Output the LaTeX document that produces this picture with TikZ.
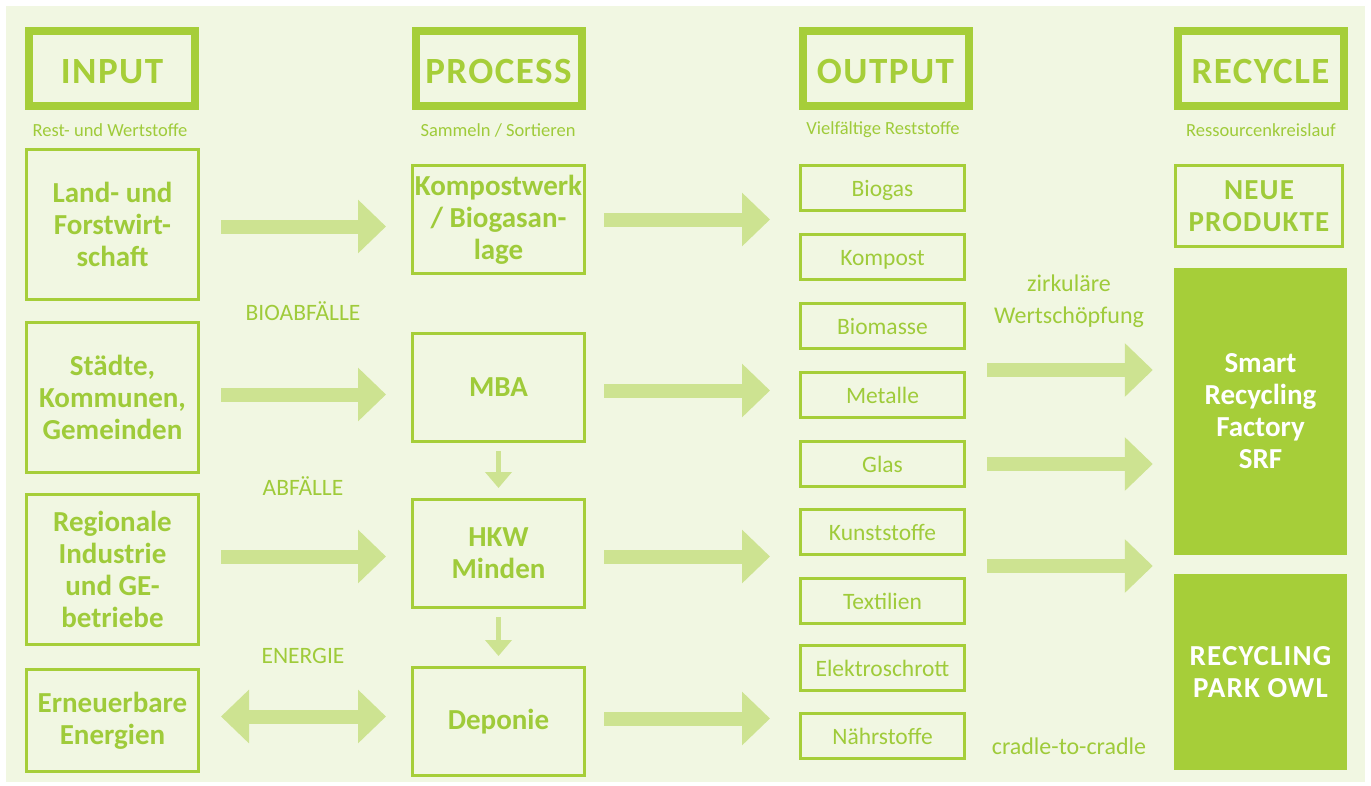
\documentclass[tikz,border=0pt]{standalone}
\usepackage{fontspec}
\setmainfont{Carlito}
\usetikzlibrary{arrows.meta}
\definecolor{srfgreen}{HTML}{A6CE39}
\definecolor{srftext}{HTML}{9FCB3A}
\definecolor{srfarrow}{HTML}{CDE391}
\definecolor{srfback}{HTML}{F1F7E2}

\begin{document}
\begin{tikzpicture}[x=1pt,y=-1pt,
   headbox/.style={draw=srfgreen,line width=8pt,minimum width=166pt,minimum height=75pt,inner sep=0pt,
      text height=30pt,text depth=0pt,
      text=srfgreen,font=\fontsize{37}{40}\selectfont\bfseries\addfontfeature{LetterSpace=4}},
   subtitle/.style={text=srftext,font=\fontsize{18.5}{22}\selectfont},
   inbox/.style={draw=srfgreen,line width=3pt,minimum width=172pt,inner sep=0pt,align=center,
      text=srftext,font=\fontsize{29}{32}\selectfont\bfseries},
   outbox/.style={draw=srfgreen,line width=3pt,minimum width=164pt,minimum height=45pt,inner sep=0pt,
      text height=17pt,text depth=0pt,
      text=srftext,font=\fontsize{23.5}{26}\selectfont},
   fullbox/.style={fill=srfgreen,minimum width=173pt,inner sep=0pt,align=center,
      text=white,font=\fontsize{29}{32}\selectfont\bfseries},
   capsfont/.style={font=\fontsize{29}{32}\selectfont\bfseries\addfontfeature{LetterSpace=4}},
   flowlabel/.style={text=srftext,align=center,font=\fontsize{24}{32}\selectfont},
   bigarrow/.style={draw=srfarrow,line width=14pt,-{Triangle[width=52pt,length=28pt]}},
   botharrow/.style={draw=srfarrow,line width=14pt,{Triangle[width=52pt,length=28pt]}-{Triangle[width=52pt,length=28pt]}},
   smallarrow/.style={draw=srfarrow,line width=5pt,-{Triangle[width=26pt,length=16pt]}}]
% background
\useasboundingbox (0,0) rectangle (1371,785);
\fill[srfback] (6,6) rectangle (1365,782);
% column heads
\node[headbox] (input) at (112,68.5) {INPUT};
\node[headbox] (process) at (498.5,68.5) {PROCESS};
\node[headbox] (output) at (885.5,68.5) {OUTPUT};
\node[headbox] (recycle) at (1260.5,68.5) {RECYCLE};
\node[subtitle] at (110,130) {Rest- und Wertstoffe};
\node[subtitle] at (498,130) {Sammeln / Sortieren};
\node[subtitle] at (883,130) {Vielfältige Reststoffe};
\node[subtitle] at (1261,130) {Ressourcenkreislauf};
% input
\node[inbox,minimum height=150pt] (land) at (112.5,224.5) {Land- und\\Forstwirt-\\schaft};
\node[inbox,minimum height=150pt] (staedte) at (112.5,397.5) {Städte,\\Kommunen,\\Gemeinden};
\node[inbox,minimum height=150pt] (regional) at (112.5,569.5) {Regionale\\Industrie\\und GE-\\betriebe};
\node[inbox,minimum height=102pt] (erneuerbar) at (112.5,720.5) {Erneuerbare\\Energien};
% process
\node[inbox,minimum height=108pt] (kompostwerk) at (498.5,219.5) {Kompostwerk\\/ Biogasan-\\lage};
\node[inbox,minimum height=108pt] (mba) at (498.5,387.5) {MBA};
\node[inbox,minimum height=108pt] (hkw) at (498.5,553.5) {HKW\\Minden};
\node[inbox,minimum height=108pt] (deponie) at (498.5,721.5) {Deponie};
% output
\node[outbox] (biogas) at (882.5,188) {Biogas};
\node[outbox] (kompost) at (882.5,257) {Kompost};
\node[outbox] (biomasse) at (882.5,326) {Biomasse};
\node[outbox] (metalle) at (882.5,395) {Metalle};
\node[outbox] (glas) at (882.5,464) {Glas};
\node[outbox] (kunststoffe) at (882.5,532) {Kunststoffe};
\node[outbox] (textilien) at (882.5,601) {Textilien};
\node[outbox] (elektro) at (882.5,667.5) {Elektroschrott};
\node[outbox] (naehrstoffe) at (882.5,736) {Nährstoffe};
% recycle
\node[inbox,capsfont,minimum width=167pt,minimum height=81pt] (neue) at (1259,206) {NEUE\\PRODUKTE};
\node[fullbox,minimum height=287pt] (srf) at (1260.5,411.5) {Smart\\Recycling\\Factory\\SRF};
\node[fullbox,capsfont,minimum height=196pt] (park) at (1260.5,672) {RECYCLING\\PARK OWL};
% labels
\node[flowlabel,font=\fontsize{23.5}{28}\selectfont] at (303,311) {BIOABFÄLLE};
\node[flowlabel,font=\fontsize{23.5}{28}\selectfont] at (303,486) {ABFÄLLE};
\node[flowlabel,font=\fontsize{23.5}{28}\selectfont] at (303,656) {ENERGIE};
\node[flowlabel] at (1069,301) {zirkuläre\\Wertschöpfung};
\node[flowlabel] at (1069,746) {cradle-to-cradle};
% input -> process
\draw[bigarrow] ([xshift=21,yshift=-2]land.east) -- ([xshift=-25,yshift=-2]land.east -| kompostwerk.west);
\draw[bigarrow] ([xshift=21,yshift=3]staedte.east) -- ([xshift=-25,yshift=3]staedte.east -| mba.west);
\draw[bigarrow] ([xshift=21,yshift=13]regional.east) -- ([xshift=-25,yshift=13]regional.east -| hkw.west);
\draw[botharrow] ([xshift=21,yshift=4]erneuerbar.east) -- ([xshift=-25,yshift=4]erneuerbar.east -| deponie.west);
% process -> output
\draw[bigarrow] ([xshift=18]kompostwerk.east) -- ([xshift=-29]kompostwerk.east -| biogas.west);
\draw[bigarrow] ([xshift=18,yshift=-3]mba.east) -- ([xshift=-29,yshift=-3]mba.east -| metalle.west);
\draw[bigarrow] ([xshift=18,yshift=-3]hkw.east) -- ([xshift=-29,yshift=-3]hkw.east -| kunststoffe.west);
\draw[bigarrow] ([xshift=18,yshift=3]deponie.east) -- ([xshift=-29,yshift=3]deponie.east -| naehrstoffe.west);
% output -> recycle
\draw[bigarrow] ([xshift=21,yshift=25]metalle.east) -- ([xshift=-21,yshift=25]metalle.east -| srf.west);
\draw[bigarrow] ([xshift=21]glas.east) -- ([xshift=-21]glas.east -| srf.west);
\draw[bigarrow] ([xshift=21,yshift=-34]kunststoffe.east) -- ([xshift=-21,yshift=-34]kunststoffe.east -| park.west);
% down
\draw[smallarrow,shorten <=8pt,shorten >=10pt] (mba) -- (hkw);
\draw[smallarrow,shorten <=8pt,shorten >=10pt] (hkw) -- (deponie);
\end{tikzpicture}
\end{document}
